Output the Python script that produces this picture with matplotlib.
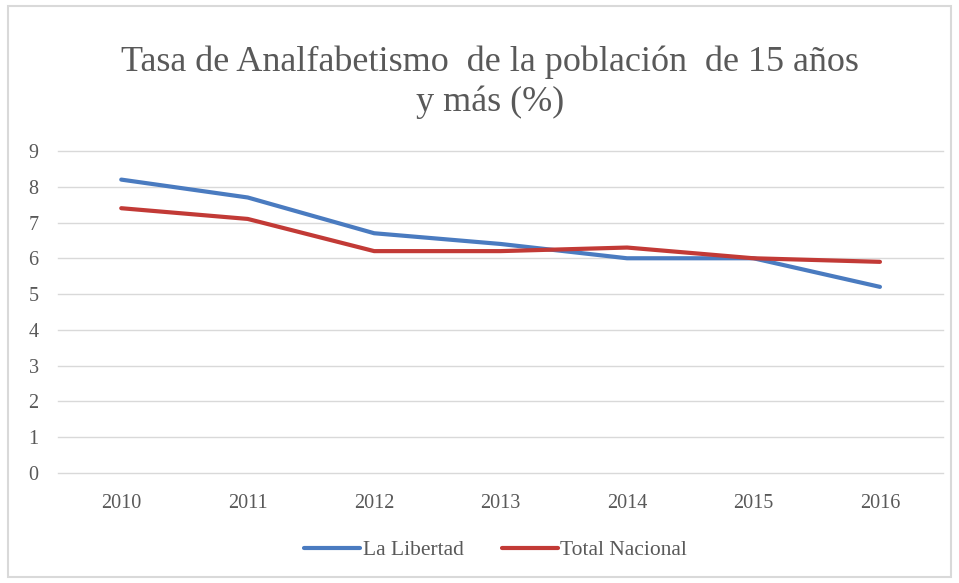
import matplotlib
matplotlib.use("Agg")
import matplotlib.pyplot as plt
from matplotlib.patches import Rectangle

years = ["2010", "2011", "2012", "2013", "2014", "2015", "2016"]
la_libertad = [8.2, 7.7, 6.7, 6.4, 6.0, 6.0, 5.2]
total_nacional = [7.4, 7.1, 6.2, 6.2, 6.3, 6.0, 5.9]

plt.rcParams['font.family'] = ['Liberation Serif', 'DejaVu Serif']

fig = plt.figure(figsize=(9.59, 5.83), dpi=100)
ax = fig.add_axes([0.0605, 0.189, 0.923, 0.552])

x = range(len(years))
ax.plot(x, la_libertad, color='#4a7bc0', lw=3, label='La Libertad', solid_capstyle='round')
ax.plot(x, total_nacional, color='#c23a36', lw=3, label='Total Nacional', solid_capstyle='round')

ax.set_xlim(-0.5, len(years) - 0.5)
ax.set_ylim(0, 9)
ax.set_yticks(range(0, 10))
ax.set_xticks(list(x))
ax.set_xticklabels(years)
ax.grid(axis='y', color='#d9d9d9', lw=1)
for gl in ax.get_ygridlines():
    gl.set_clip_on(False)
ax.set_axisbelow(True)
for s in ax.spines.values():
    s.set_visible(False)
ax.tick_params(length=0, labelsize=14.5, colors='#595959')
ax.tick_params(axis='x', pad=15)
ax.tick_params(axis='y', pad=14)

fig.text(0.511, 0.894, 'Tasa de Analfabetismo  de la población  de 15 años', ha='center', va='center',
         fontsize=26, color='#595959')
fig.text(0.511, 0.824, 'y más (%)', ha='center', va='center', fontsize=26, color='#595959')

leg = fig.legend(loc='center', bbox_to_anchor=(0.517, 0.056), ncol=2, frameon=False,
                 fontsize=15.5, handlelength=2.6, handletextpad=0.1, columnspacing=1.8)
for t in leg.get_texts():
    t.set_color('#595959')

fig.patches.append(Rectangle((0.008, 0.01), 0.984, 0.98, transform=fig.transFigure,
                             fill=False, edgecolor='#d9d9d9', lw=1.5))

fig.savefig('out.png', dpi=100)
